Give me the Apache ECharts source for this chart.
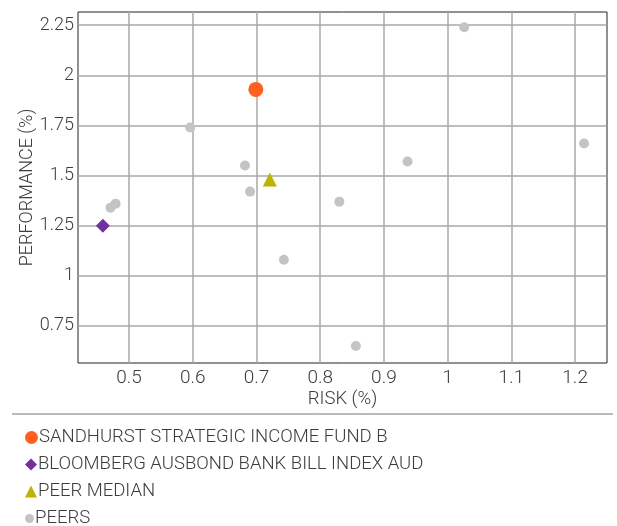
<!DOCTYPE html>
<html>
<head>
<meta charset="utf-8">
<script src="https://cdn.jsdelivr.net/npm/echarts@6/dist/echarts.min.js"></script>
<style>
  html, body { margin: 0; padding: 0; background: #fff; }
  #chart { width: 617px; height: 526px; }
</style>
</head>
<body>
<div id="chart"></div>
<script>
// Risk (x, %) and performance (y, %) points
const fundName = 'SANDHURST STRATEGIC INCOME FUND B';
const benchName = 'BLOOMBERG AUSBOND BANK BILL INDEX AUD';
const medianName = 'PEER MEDIAN';
const peersName = 'PEERS';

const fundPoint = [[0.699, 1.93]];
const benchPoint = [[0.459, 1.25]];
const medianPoint = [[0.721, 1.48]];
const peerPoints = [
  [0.471, 1.34], [0.479, 1.36], [0.596, 1.74], [0.682, 1.55],
  [0.690, 1.42], [0.743, 1.08], [0.830, 1.37], [0.856, 0.65],
  [0.937, 1.57], [1.026, 2.24], [1.214, 1.66]
];

const xTicks = [0.5, 0.6, 0.7, 0.8, 0.9, 1, 1.1, 1.2];
const yTicks = [0.75, 1, 1.25, 1.5, 1.75, 2, 2.25];

const FONT = 'Roboto, "Noto Sans", sans-serif';
const WEIGHT = 300;
const TXT = '#3c3c3c';

const chart = echarts.init(document.getElementById('chart'));

function legendBox(name, icon, color, size, top) {
  return {
    orient: 'vertical', left: 20, top: top,
    itemWidth: size, itemHeight: size, itemGap: 0,
    selectedMode: false,
    data: [{ name: name, icon: icon, itemStyle: { color: color } }],
    textStyle: { fontFamily: FONT, fontWeight: WEIGHT, fontSize: 18.5, color: TXT, padding: [0, 0, 0, -4] }
  };
}

chart.setOption({
  animation: false,
  grid: { left: 78, right: 10, top: 12, bottom: 163, containLabel: false,
          show: true, borderColor: '#222', borderWidth: 1 },
  xAxis: {
    type: 'value', min: 0.42, max: 1.25,
    name: 'RISK (%)', nameLocation: 'middle', nameGap: 27, nameMoveOverlap: false,
    nameTextStyle: { fontFamily: FONT, fontWeight: WEIGHT, fontSize: 18.5, color: TXT },
    axisLine: { show: false },
    axisTick: { show: false, customValues: xTicks },
    axisLabel: { customValues: xTicks, fontFamily: FONT, fontWeight: WEIGHT, fontSize: 19, color: TXT, margin: 6 },
    splitLine: { show: true, lineStyle: { color: '#a8a8a8', width: 1.5 } }
  },
  yAxis: {
    type: 'value', min: 0.565, max: 2.316,
    name: 'PERFORMANCE (%)', nameLocation: 'middle', nameGap: 42, nameRotate: 90,
    nameMoveOverlap: false,
    nameTextStyle: { fontFamily: FONT, fontWeight: WEIGHT, fontSize: 18, color: TXT },
    axisLine: { show: false },
    axisTick: { show: false, customValues: yTicks },
    axisLabel: { customValues: yTicks, fontFamily: FONT, fontWeight: WEIGHT, fontSize: 18, color: TXT, margin: 4 },
    splitLine: { show: true, lineStyle: { color: '#a8a8a8', width: 1.5 } }
  },
  legend: [
    legendBox(fundName, 'circle', '#ff5f1f', 13, 423),
    legendBox(benchName, 'diamond', '#7030a0', 12, 450),
    legendBox(medianName, 'triangle', '#bdb300', 12, 477),
    legendBox(peersName, 'circle', '#c4c4c4', 9, 504)
  ],
  graphic: [{
    type: 'line', shape: { x1: 12, y1: 414, x2: 613, y2: 414 },
    style: { stroke: '#777', lineWidth: 1 }
  }],
  series: [
    { name: peersName, type: 'scatter', data: peerPoints, symbol: 'circle', symbolSize: 10,
      itemStyle: { color: '#c4c4c4', opacity: 1 } },
    { name: medianName, type: 'scatter', data: medianPoint, symbol: 'triangle', symbolSize: 14,
      itemStyle: { color: '#bdb300', opacity: 1 } },
    { name: benchName, type: 'scatter', data: benchPoint, symbol: 'diamond', symbolSize: 14,
      itemStyle: { color: '#7030a0', opacity: 1 } },
    { name: fundName, type: 'scatter', data: fundPoint, symbol: 'circle', symbolSize: 15,
      itemStyle: { color: '#ff5f1f', opacity: 1 } }
  ]
});
</script>
</body>
</html>
